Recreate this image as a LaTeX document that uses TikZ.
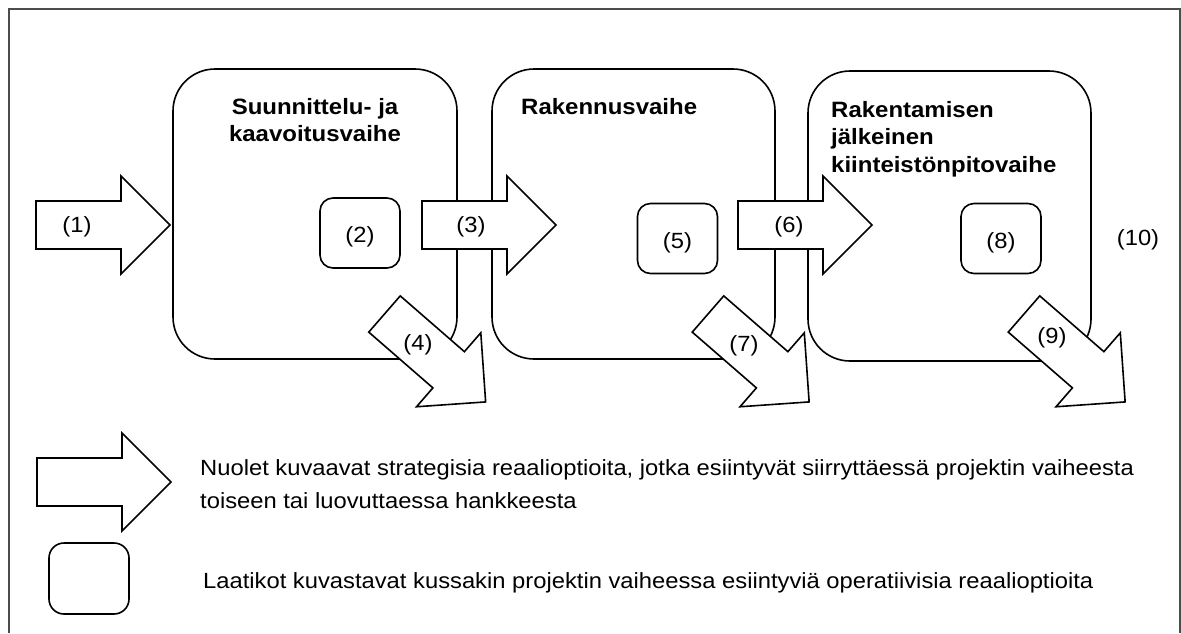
\documentclass[tikz,border=0pt]{standalone}
\usepackage{fontspec}
\setmainfont{Liberation Sans}[FakeStretch=1.08]
\begin{document}
\begin{tikzpicture}[x=1pt,y=-1pt,
  outline/.style={draw=black, line width=1.6pt, fill=white},
  phasebox/.style={outline, rounded corners=42pt, minimum width=284pt, minimum height=290pt, inner sep=0pt},
  optbox/.style={outline, rounded corners=13pt, minimum width=80pt, minimum height=70pt, inner sep=0pt},
  lbl/.style={font=\fontsize{22}{26}\selectfont, inner sep=0pt},
  title/.style={font=\bfseries\fontsize{22.2}{27}\selectfont, inner sep=0pt},
  note/.style={font=\fontsize{22}{26}\selectfont, inner sep=0pt, anchor=base west},
  pics/blockarrow/.style={code={
    \path[outline] (0,-24) -- (85,-24) -- (85,-49) -- (134,0) -- (85,49) -- (85,24) -- (0,24) -- cycle;}}
]
\useasboundingbox (0,0) rectangle (1181,633);

% outer frame, open at the bottom
\draw[draw=black!70, line width=2pt] (9,633) -- (9,9) -- (1180,9) -- (1180,633);

% project phases
\node[phasebox] (p1) at (315,214) {};
\node[phasebox, minimum width=283pt] (p2) at (633.5,214) {};
\node[phasebox, minimum width=283pt] (p3) at (949.5,216) {};

% operative options inside the phases
\node[optbox] (o2) at (360,233) {};
\node[optbox] (o5) at (677.5,238.5) {};
\node[optbox] (o8) at (1001,238.5) {};

% strategic options between the phases
\pic at (36,225) {blockarrow};
\pic at (422,225) {blockarrow};
\pic at (738,225) {blockarrow};
\pic[rotate=-41] at (384.5,314) {blockarrow};
\pic[rotate=-41] at (708,314) {blockarrow};
\pic[rotate=-41] at (1024,314) {blockarrow};

% phase titles
\node[title, anchor=base] (t1a) at (315,114) {Suunnittelu- ja};
\node[title, anchor=base] (t1b) at (315,141.5) {kaavoitusvaihe};
\node[title, anchor=base west] (t2) at (521,114) {Rakennusvaihe};
\node[title, anchor=base west] (t3a) at (831,117) {Rakentamisen};
\node[title, anchor=base west] (t3b) at (831,144.5) {jälkeinen};
\node[title, anchor=base west] (t3c) at (831,172) {kiinteistönpitovaihe};

% option numbers
\node[lbl] (n1) at (77,227) {(1)};
\node[lbl] (n2) at (360,237) {(2)};
\node[lbl] (n3) at (471,227) {(3)};
\node[lbl] (n4) at (418,345) {(4)};
\node[lbl] (n5) at (677.5,243) {(5)};
\node[lbl] (n6) at (789,227) {(6)};
\node[lbl] (n7) at (744,346) {(7)};
\node[lbl] (n8) at (1001,243) {(8)};
\node[lbl] (n9) at (1052,338) {(9)};
\node[lbl] (n10) at (1138,240) {(10)};

% legend
\pic at (37,482) {blockarrow};
\node[optbox, rounded corners=15pt, minimum height=71pt] (lb) at (89,578.5) {};
\node[note] (l1) at (200,475) {Nuolet kuvaavat strategisia reaalioptioita, jotka esiintyvät siirryttäessä projektin vaiheesta};
\node[note] (l2) at (200,508) {toiseen tai luovuttaessa hankkeesta};
\node[note] (l3) at (203,588) {Laatikot kuvastavat kussakin projektin vaiheessa esiintyviä operatiivisia reaalioptioita};
\end{tikzpicture}
\end{document}
